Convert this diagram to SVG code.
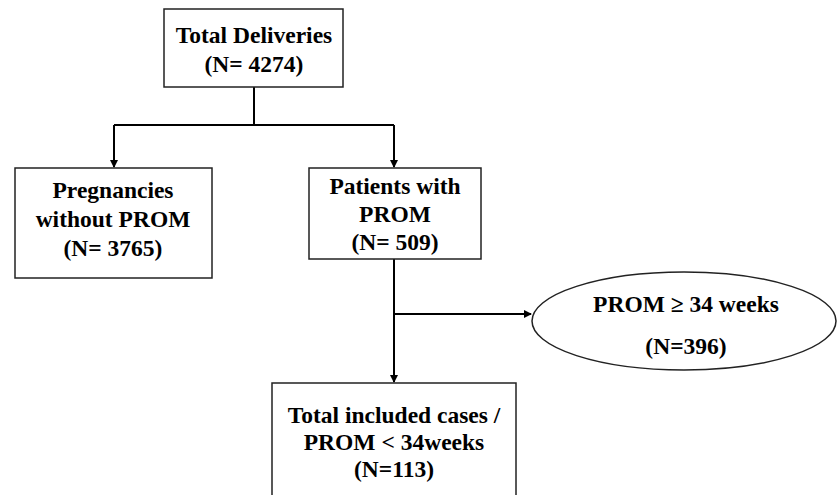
<svg xmlns="http://www.w3.org/2000/svg" width="837" height="495" viewBox="0 0 837 495">
<style>
.box{fill:#fff;stroke:#222;stroke-width:1.5}
.t{font-family:"Liberation Serif","Times New Roman",serif;font-weight:bold;font-size:23.5px;fill:#000;text-anchor:middle}
.c{fill:none;stroke:#000;stroke-width:2}
</style>
<defs>
<marker id="ah" markerWidth="8" markerHeight="8" refX="7" refY="4" orient="auto" markerUnits="userSpaceOnUse">
<path d="M0,0 L8,4 L0,8 Z" fill="#000"/>
</marker>
</defs>
<rect width="837" height="495" fill="#fff"/>
<g id="connectors">
<path class="c" d="M254,87 V125"/>
<path class="c" d="M114,125 H394"/>
<path class="c" d="M114,125 V167" marker-end="url(#ah)"/>
<path class="c" d="M394,125 V167" marker-end="url(#ah)"/>
<path class="c" d="M394,259 V382" marker-end="url(#ah)"/>
<path class="c" d="M394,314 H531" marker-end="url(#ah)"/>
</g>
<g id="total">
<rect class="box" x="164" y="9" width="179" height="78"/>
<text class="t" x="254" y="43">Total Deliveries</text>
<text class="t" x="254" y="72">(N= 4274)</text>
</g>
<g id="without">
<rect class="box" x="15" y="168" width="197" height="110"/>
<text class="t" x="113" y="198">Pregnancies</text>
<text class="t" x="113" y="227">without PROM</text>
<text class="t" x="113" y="256">(N= 3765)</text>
</g>
<g id="with">
<rect class="box" x="309" y="168" width="172" height="91"/>
<text class="t" x="395" y="194">Patients with</text>
<text class="t" x="395" y="222">PROM</text>
<text class="t" x="395" y="250">(N= 509)</text>
</g>
<g id="ge34">
<ellipse class="box" cx="684" cy="321" rx="152" ry="49"/>
<text class="t" x="686" y="312">PROM ≥ 34 weeks</text>
<text class="t" x="686" y="354">(N=396)</text>
</g>
<g id="included">
<rect class="box" x="272" y="383" width="244" height="130"/>
<text class="t" x="394" y="423">Total included cases /</text>
<text class="t" x="394" y="450">PROM &lt; 34weeks</text>
<text class="t" x="394" y="477">(N=113)</text>
</g>
</svg>
